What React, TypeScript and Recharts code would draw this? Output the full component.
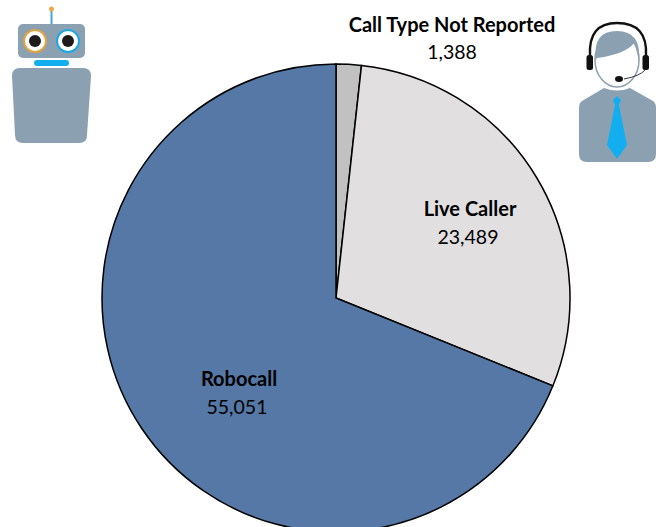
import React from "react";
import { PieChart, Pie, Cell } from "recharts";

const categories = ["Call Type Not Reported", "Live Caller", "Robocall"];
const callCounts = [1388, 23489, 55051];
const tickLabels = ["1,388", "23,489", "55,051"];
const sliceColors = ["#c1c1c1", "#e1dfe0", "#5578a6"];
const labelAnchors = [
  { x: 452, y: 32, vx: 452, vy: 59 },
  { x: 470, y: 216, vx: 468, vy: 244 },
  { x: 239, y: 386, vx: 237, vy: 414 },
];

const chartData = categories.map((name, i) => ({ name, value: callCounts[i] }));
const FONT = "Lato, 'Open Sans', sans-serif";

const renderLabel = (props: any) => {
  const i = props.index;
  const a = labelAnchors[i];
  return (
    <g key={i}>
      <text x={a.x} y={a.y} textAnchor="middle" fontFamily={FONT} fontSize={20} fontWeight={700} fill="#000">
        {categories[i]}
      </text>
      <text x={a.vx} y={a.vy} textAnchor="middle" fontFamily={FONT} fontSize={19.5} fill="#000">
        {tickLabels[i]}
      </text>
    </g>
  );
};

const GREY = "#8ba1b1";

const Icons = () => (
  <svg width={660} height={527} style={{ position: "absolute", left: 0, top: 0, pointerEvents: "none" }}>
    {/* robot */}
    <line x1={51.5} y1={11} x2={51.5} y2={24} stroke="#4aa3d8" strokeWidth={2} />
    <circle cx={51.5} cy={9} r={2.5} fill="#f0a94a" />
    <rect x={18} y={24} width={67} height={34} rx={5} fill={GREY} />
    <circle cx={35} cy={41} r={11} fill="#fff" stroke="#e2a33f" strokeWidth={2} />
    <circle cx={35} cy={41} r={6} fill="#1e1a1a" />
    <circle cx={68} cy={41} r={11} fill="#fff" stroke="#1fa6e3" strokeWidth={2} />
    <circle cx={68} cy={41} r={6} fill="#1e1a1a" />
    <rect x={34} y={60} width={35} height={6} rx={3} fill="#12aeef" />
    <path d="M20 68 H83 Q91 68 91 76 L87 135 Q87 143 79 143 H23 Q15 143 15 135 L12 76 Q12 68 20 68 Z" fill={GREY} />
    {/* agent */}
    <path d="M582 101 L604 88 Q617 93 630 88 L653 101 Q656 103 656 108 V154 Q656 162 648 162 H587 Q579 162 579 154 V108 Q579 103 582 101 Z" fill={GREY} />
    <path d="M617 96 L621 100 L619 105 L627 145 L617 159 L607 145 L615 105 L613 100 Z" fill="#12aeef" />
    <ellipse cx={617} cy={60} rx={22} ry={27} fill="#fff" stroke={GREY} strokeWidth={1.5} />
    <path d="M596 60 Q592 31 617 31 Q642 31 639 62 Q637 50 634 43 Q626 54 597 58 Z" fill={GREY} />
    <path d="M590 56 Q588 23 617 23 Q648 23 646 56" fill="none" stroke="#111" strokeWidth={2.4} />
    <rect x={586.5} y={55} width={6.5} height={15} rx={2.5} fill="#111" />
    <rect x={642.5} y={55} width={6.5} height={15} rx={2.5} fill="#111" />
    <path d="M645 70 Q640 76 624 79" fill="none" stroke="#333" strokeWidth={1} />
    <ellipse cx={619} cy={79} rx={4} ry={3} fill="#111" />
  </svg>
);

export default function App() {
  return (
    <div style={{ position: "absolute", left: 0, top: 0, width: 660, height: 527, background: "#fff", overflow: "hidden" }}>
      <PieChart width={660} height={527} margin={{ top: 0, right: 0, bottom: 0, left: 0 }}>
        <Pie
          data={chartData}
          dataKey="value"
          nameKey="name"
          cx={336}
          cy={298}
          outerRadius={234}
          innerRadius={0}
          startAngle={90}
          endAngle={-270}
          stroke="#000"
          strokeWidth={1.5}
          label={renderLabel}
          labelLine={false}
          isAnimationActive={false}
        >
          {chartData.map((d, i) => (
            <Cell key={d.name} fill={sliceColors[i]} stroke="#000" strokeWidth={1.5} />
          ))}
        </Pie>
      </PieChart>
      <Icons />
    </div>
  );
}
